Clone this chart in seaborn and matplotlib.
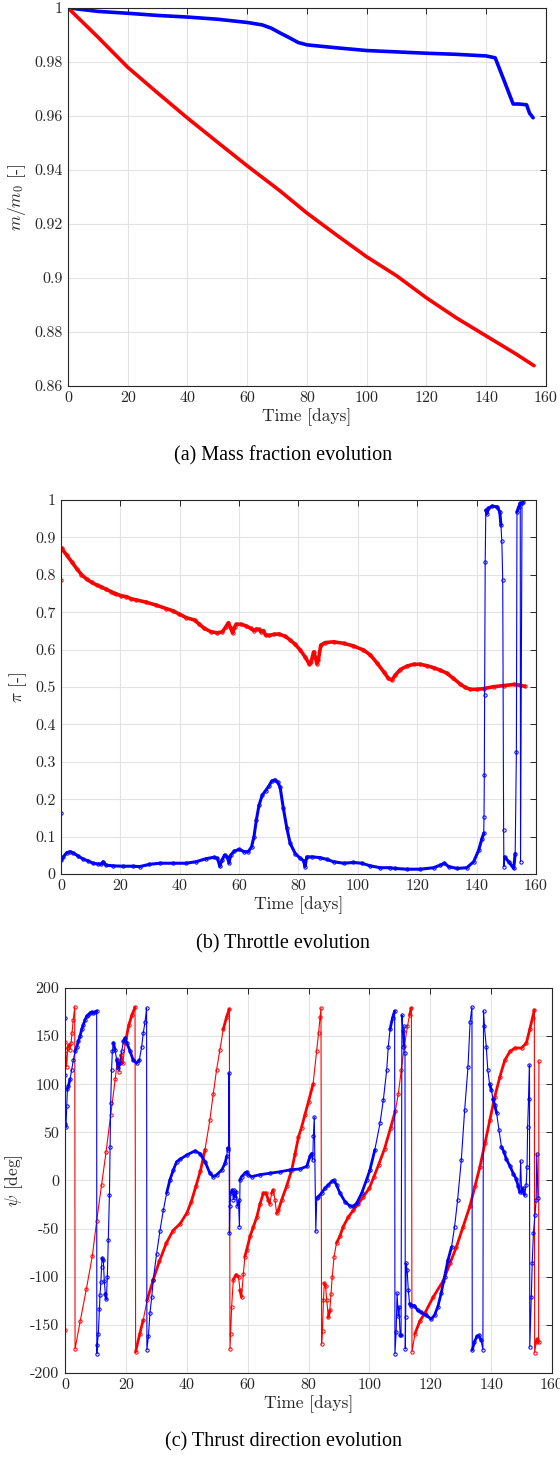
import numpy as np
import pandas as pd
import matplotlib
matplotlib.use("Agg")
import matplotlib.pyplot as plt
from matplotlib.ticker import FuncFormatter
import seaborn as sns

BLUE = '#0000ff'
RED = '#ff0000'

# ---- (a) mass fraction ----
a_t_blue = [0, 10, 20, 30, 40, 50, 60, 65, 68, 71, 74, 77, 80, 90, 100, 110,
            120, 130, 140, 143, 146, 149, 151, 153.5, 154.5, 155.7]
a_blue = [1.0, 0.9987, 0.998, 0.9972, 0.9966, 0.9958, 0.9946, 0.9937, 0.9925,
          0.9907, 0.989, 0.9872, 0.9863, 0.9852, 0.9842, 0.9837, 0.9832, 0.9828,
          0.9822, 0.9815, 0.973, 0.9644, 0.9644, 0.9641, 0.961, 0.9593]
a_t_red = [0, 10, 20, 30, 40, 50, 60, 71, 80, 90, 100, 110, 120, 130, 140, 150, 156]
a_red = [1.0, 0.9892, 0.978, 0.9685, 0.9592, 0.9503, 0.9415, 0.9322, 0.924, 0.9158,
         0.9078, 0.9008, 0.8926, 0.8852, 0.8785, 0.8718, 0.8675]

# ---- (b) throttle ----
b_t_red = [0, 0.2, 1.9, 3.6, 5.25, 6.9, 8.6, 10.3, 12, 13.6,
           15.3, 17, 17.8, 18.7, 20.3, 22, 23.7, 25.4, 28.7, 32.1,
           35.4, 37.7, 39.9, 42.1, 45, 46.6, 48.3, 50.5, 52.7, 54.4,
           55.5, 56.4, 57.2, 57.8, 58.5, 59.1, 60.6, 62.2, 63.9, 65,
           65.8, 66.7, 67.4, 68.2, 68.9, 70, 71.7, 73.4, 75.5, 77.2,
           78.9, 80.6, 82.2, 83.7, 84.3, 85.1, 85.6, 86.2, 86.7, 87.5,
           89, 91.8, 95.2, 98.5, 101.9, 104.2, 106.4, 108.7, 110.3, 111.5,
           112.6, 114.3, 116.5, 118.8, 121, 123.3, 125.5, 127.8, 130, 132.2,
           134.5, 136.2, 137.9, 140.1, 142.4, 145.7, 149.1, 152.5, 154.7, 156.2]
b_red = [0.786, 0.871, 0.853, 0.835, 0.817, 0.801, 0.789, 0.780, 0.773, 0.768,
         0.761, 0.755, 0.751, 0.749, 0.744, 0.742, 0.736, 0.733, 0.727, 0.719,
         0.710, 0.704, 0.695, 0.686, 0.679, 0.668, 0.657, 0.648, 0.645, 0.648,
         0.661, 0.672, 0.657, 0.645, 0.661, 0.668, 0.668, 0.664, 0.657, 0.651,
         0.655, 0.654, 0.648, 0.651, 0.639, 0.638, 0.641, 0.642, 0.636, 0.626,
         0.614, 0.599, 0.581, 0.561, 0.568, 0.594, 0.581, 0.563, 0.572, 0.612,
         0.619, 0.621, 0.617, 0.610, 0.599, 0.586, 0.565, 0.541, 0.523, 0.519,
         0.532, 0.547, 0.556, 0.561, 0.561, 0.557, 0.552, 0.545, 0.537, 0.523,
         0.508, 0.499, 0.494, 0.494, 0.496, 0.501, 0.504, 0.507, 0.505, 0.502]
b_t_blue = [0, 0.1, 0.8, 1.9, 3, 4.1, 5.8, 7.5, 9.2, 10.8,
            12.5, 13.6, 14.2, 15.1, 17.5, 20.9, 24.2, 26.5, 29.8, 33.2,
            37.7, 42.1, 45.5, 48.8, 51.6, 52.7, 53.5, 54.2, 55.1, 56,
            56.6, 57.2, 58.3, 60, 61.7, 63.1, 64.2, 65, 65.8, 66.7,
            67.8, 68.9, 70, 71, 72, 73, 73.8, 74.9, 76.1, 77.2,
            78.9, 80.6, 81.7, 82.2, 82.8, 84.5, 87.3, 89.6, 91.8, 95.2,
            98.5, 101.3, 104.2, 107.5, 110.9, 112.6, 116.5, 121, 125.5, 127.8,
            129.1, 130.6, 133.4, 136.7, 139, 140.7, 141.8, 142.4, 142.5, 142.6,
            142.7, 142.9, 143.1, 143.5, 144, 145.2, 146.9, 147.8, 148.2, 148.5,
            148.8, 149.1, 149.2, 149.4, 150.8, 152.5, 153, 153.4, 153.6, 154.2,
            154.7, 154.8, 155.3, 155.6]
b_blue = [0.162, 0.037, 0.046, 0.057, 0.060, 0.057, 0.048, 0.040, 0.035, 0.029,
          0.027, 0.027, 0.033, 0.024, 0.022, 0.021, 0.021, 0.020, 0.026, 0.029,
          0.029, 0.029, 0.033, 0.041, 0.045, 0.042, 0.021, 0.037, 0.051, 0.046,
          0.030, 0.051, 0.061, 0.066, 0.060, 0.060, 0.073, 0.100, 0.144, 0.184,
          0.211, 0.223, 0.235, 0.249, 0.252, 0.245, 0.233, 0.176, 0.122, 0.082,
          0.055, 0.042, 0.036, 0.020, 0.046, 0.046, 0.044, 0.039, 0.033, 0.029,
          0.031, 0.029, 0.022, 0.017, 0.017, 0.015, 0.013, 0.013, 0.017, 0.024,
          0.029, 0.020, 0.015, 0.017, 0.033, 0.064, 0.095, 0.109, 0.153, 0.265,
          0.479, 0.835, 0.973, 0.964, 0.978, 0.984, 0.982, 0.969, 0.933, 0.890,
          0.786, 0.119, 0.020, 0.046, 0.033, 0.015, 0.055, 0.327, 0.969, 0.982,
          0.991, 0.033, 0.991, 0.995]

# ---- (c) thrust direction ----
c_t_red = [0, 0.05, 0.2, 0.55, 0.9, 1.3, 1.6, 2.0, 2.3, 2.7,
           3.2, 3.3, 5, 7, 9, 10.4, 12, 13.5, 15, 16.5,
           17.2, 17.8, 18.3, 19, 19.8, 21, 22, 23, 23.2, 24.5,
           25.7, 27, 29, 31, 33.3, 35.5, 37.8, 40, 41.5, 43,
           44.5, 46, 47.6, 48.7, 49.8, 50.9, 52, 53.1, 54, 54.2,
           54.4, 54.75, 55.3, 56.2, 57, 57.5, 58, 58.6, 59.1, 59.7,
           60.8, 61.9, 63, 64.1, 65.2, 66, 66.8, 67.3, 67.9, 68.4,
           69, 69.5, 70.1, 71.2, 72.8, 74.5, 75.6, 76.7, 77.7, 78.8,
           80, 81.5, 82.7, 83.3, 83.8, 84.1, 84.3, 84.6, 84.9, 85.2,
           85.6, 86, 86.5, 87, 87.4, 87.8, 88.4, 89.2, 90.3, 91.4,
           93.1, 94.7, 96.4, 98, 100, 101.5, 103, 105, 107, 108.5,
           109.5, 110.5, 111.5, 112.5, 113.2, 113.8, 114, 115, 116.6, 118.2,
           121, 124.3, 126.5, 128.6, 130.8, 133, 134.7, 136.3, 138, 139.6,
           141.2, 142.9, 144.5, 146.2, 147.8, 150, 151.6, 152.7, 153.6, 154.2,
           154.3, 154.8, 155.2, 155.6, 155.7]
c_red = [-155, 144, 136, 118, 138, 141, 136, 143, 153, 167,
         180, -175, -146, -113, -78, -42, -5, 30, 68, 105,
         126, 113, 130, 122, 143, 162, 172, 180, -178, -160,
         -145, -124, -103, -84, -65, -52, -45, -34, -22, -6,
         10, 32, 63, 90, 115, 136, 157, 170, 178, -175,
         -159, -131, -103, -98, -100, -114, -121, -97, -79, -72,
         -58, -48, -38, -24, -13, -13, -20, -24, -13, -10,
         -20, -34, -31, -20, -6, 11, 28, 45, 55, 68,
         82, 100, 135, 153, 170, 179, -170, -156, -124, -107,
         -110, -124, -142, -135, -118, -100, -79, -65, -58, -48,
         -38, -31, -24, -17, -8, 4, 16, 33, 55, 72,
         90, 115, 140, 160, 172, 179, -178, -159, -146, -138,
         -121, -104, -86, -69, -48, -27, -6, 14, 39, 63,
         87, 108, 125, 134, 137.6, 137.6, 143, 157, 169, 177,
         -179, -168, -165, -168, 124]
c_t_blue = [0, 0.02, 0.05, 0.33, 0.55, 0.77, 1.1, 1.64, 2.19, 2.74,
            3.29, 3.83, 4.38, 4.93, 5.48, 6.02, 6.57, 7.12, 7.67, 8.21,
            8.76, 9.31, 9.9, 10.4, 10.45, 10.6, 10.95, 11.3, 11.5, 11.8,
            12.0, 12.2, 12.6, 12.9, 13.25, 13.6, 13.9, 14.2, 14.6, 14.8,
            15.0, 15.3, 15.55, 15.9, 16.4, 17, 17.5, 18.1, 18.6, 19.2,
            19.7, 20.3, 21.4, 22.4, 23.5, 24.4, 25.2, 25.7, 26.3, 26.8,
            26.9, 27.4, 27.9, 28.5, 29, 30.1, 31.2, 32.3, 33.4, 34.5,
            35.6, 36.7, 37.8, 40, 42.7, 44.3, 46, 47.6, 48.7, 49.8,
            51.5, 52.6, 53.1, 53.4, 53.7, 53.9, 54, 54.2, 54.5, 55,
            55.3, 55.6, 55.8, 56.2, 56.6, 57, 57.3, 57.5, 58, 59.1,
            59.7, 60.2, 61.3, 64, 67.3, 70.6, 73.9, 77.2, 79.4, 80.5,
            81, 81.4, 81.6, 81.9, 82.4, 82.7, 83.2, 84.3, 85.4, 86.5,
            87.6, 88.4, 89.2, 90.3, 92, 93.6, 94.7, 95.8, 97.5, 99.1,
            100.2, 101.8, 103.5, 104.6, 105.7, 106.2, 106.8, 107.6, 108.3, 108.4,
            108.8, 109.1, 109.5, 109.7, 110.1, 110.4, 110.7, 111, 111.2, 111.4,
            111.7, 111.8, 111.9, 112.1, 112.4, 112.8, 113.2, 113.7, 114.8, 115.9,
            117, 118.7, 120.3, 121.4, 122.5, 123.6, 124.7, 125.8, 127, 128,
            129, 130.2, 131.3, 132.4, 133.1, 133.7, 133.8, 134.5, 135.3, 136,
            136.7, 137.3, 137.5, 137.8, 138.4, 138.9, 139.5, 140.1, 140.6, 141.2,
            141.8, 142.6, 143.4, 144.2, 145, 146.2, 147.3, 148.2, 148.9, 149.4,
            149.7, 150, 150.4, 151, 151.5, 151.8, 152, 152.3, 152.6, 152.7,
            153.2, 153.5, 153.9, 154.4, 154.8, 155, 155.4]
c_blue = [169, 110, 59, 56, 77, 95, 98, 105, 115, 125,
          134, 139, 144.5, 150, 157, 162, 167, 170.5, 172, 174,
          175, 174, 175, 176, -180, -171, -159, -133, -119, -105,
          -90, -81, -83, -104, -118, -123, -100, -62, -15, 35,
          80, 115, 134, 143, 136, 125, 117, 122, 134, 144.5,
          148, 143, 134, 125, 122, 125, 139, 153, 165, 179,
          -176, -162, -138, -121, -103, -76, -52, -31, -13, 1,
          11, 19.6, 22, 26.5, 30.7, 28, 19.6, 7.5, 4, 5.8,
          11, 18, 25, 33.6, 32, 111.5, -55, -27, -13, -10,
          -20, -10, -17, -12, -27, -20, -48, 0.6, 4, 7.5,
          9, 6, 4, 6, 7.5, 9, 11, 12, 14.6, 25,
          28, 21, 46, 66, -53, -18.5, -17, -13, -8, -4.6,
          -1, 0, -4.6, -13, -22, -26.5, -27, -23.7, -13, 1,
          11, 32, 59.5, 84, 115, 139, 157, 169, 176, -180,
          -157, -117, -141, -131, -161, -161, 172, 155, 139, 160,
          132, -175, -142, -86, -93, -114, -128, -130, -130, -135,
          -137, -140, -144, -140, -131, -117, -100, -83, -69, -48,
          -20, 21, 73, 118, 165, 180, -176, -168, -162, -161,
          -166, -176, 176, 160, 139, 115, 100, 94, 85, 78,
          70, 52, 35, 30, 22, 15, 7, 2, -6, -12,
          20, -12, -8, -15, -5, 14, 56, 85, 120, -173,
          -121, -86, -55, -36, -20, 28, -18]

captions = ['(a) Mass fraction evolution', '(b) Throttle evolution',
            '(c) Thrust direction evolution']


def smooth_runs(t, y, max_slope):
    # pieces where the trace moves slowly: densely sampled, so they read thick
    t = np.asarray(t, float)
    y = np.asarray(y, float)
    slope = np.abs(np.diff(y)) / np.maximum(np.diff(t), 1e-6)
    seg = np.concatenate([[0], np.cumsum(slope > max_slope)])
    df = pd.DataFrame({'t': t, 'y': y, 'seg': seg})
    n = df['seg'].map(df['seg'].value_counts())
    return df[n > 1]


def draw_trace(ax, t, y, color, max_slope, lw_thick):
    sns.lineplot(x=t, y=y, ax=ax, color=color, lw=0.8, sort=False, estimator=None,
                 marker='o', markersize=2.4, markerfacecolor='none',
                 markeredgecolor=color, markeredgewidth=0.7)
    runs = smooth_runs(t, y, max_slope)
    sns.lineplot(data=runs, x='t', y='y', units='seg', estimator=None, sort=False,
                 ax=ax, color=color, lw=lw_thick, solid_capstyle='round',
                 solid_joinstyle='round')


def style_axes(ax, ylim, yticks, ylabel):
    ax.set_xlim(0, 160)
    ax.set_ylim(*ylim)
    ax.set_xticks(np.arange(0, 161, 20))
    ax.set_yticks(yticks)
    fmt = FuncFormatter(lambda v, p: '%g' % round(v, 6))
    ax.xaxis.set_major_formatter(fmt)
    ax.yaxis.set_major_formatter(fmt)
    ax.grid(True, color='#e3e3e3', lw=0.8)
    ax.set_axisbelow(True)
    ax.tick_params(direction='in', top=True, right=True, length=4, width=0.7,
                   color='#262626', labelcolor='#262626', labelsize=11.5, pad=4)
    for s in ax.spines.values():
        s.set_color('#262626')
        s.set_linewidth(0.8)
    ax.set_xlabel('Time [days]', fontsize=12.5, color='#262626', labelpad=2)
    ax.set_ylabel(ylabel, fontsize=12.5, color='#262626', labelpad=4)


sns.set_style('white')
plt.rcParams['font.family'] = ['cmr10', 'DejaVu Serif']
plt.rcParams['mathtext.fontset'] = 'cm'
plt.rcParams['axes.unicode_minus'] = False

fig = plt.figure(figsize=(5.6, 14.58), dpi=100)
ax_a = fig.add_axes([0.1214, 0.7353, 0.8536, 0.2593])
ax_b = fig.add_axes([0.1089, 0.4005, 0.8482, 0.2565])
ax_c = fig.add_axes([0.1161, 0.0583, 0.8696, 0.2641])

# (a)
sns.lineplot(x=a_t_blue, y=a_blue, ax=ax_a, color=BLUE, lw=2.6, sort=False,
             estimator=None, solid_capstyle='round')
sns.lineplot(x=a_t_red, y=a_red, ax=ax_a, color=RED, lw=2.6, sort=False,
             estimator=None, solid_capstyle='round')
style_axes(ax_a, (0.86, 1.0), np.arange(0.86, 1.001, 0.02), r'$m/m_0$ [-]')

# (b)
draw_trace(ax_b, b_t_red, b_red, RED, 0.1, 2.6)
draw_trace(ax_b, b_t_blue, b_blue, BLUE, 0.1, 2.2)
style_axes(ax_b, (0, 1.0), np.arange(0, 1.001, 0.1), r'$\pi$ [-]')

# (c)
draw_trace(ax_c, c_t_red, c_red, RED, 16, 2.0)
draw_trace(ax_c, c_t_blue, c_blue, BLUE, 16, 2.0)
style_axes(ax_c, (-200, 200), np.arange(-200, 201, 50), r'$\psi$ [deg]')

for y, txt in zip([456, 944, 1442], captions):
    fig.text(0.506, 1 - y / 1458, txt, ha='center', va='center',
             family='Liberation Serif', fontsize=14.5, color='black')

fig.savefig('out.png', dpi=100)
